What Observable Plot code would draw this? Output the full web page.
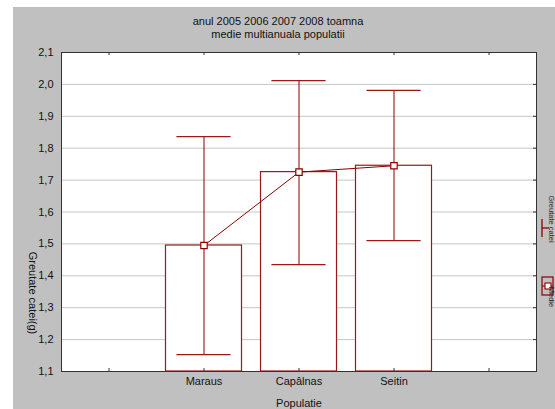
<!DOCTYPE html>
<html>
<head>
<meta charset="utf-8">
<script src="https://cdn.jsdelivr.net/npm/d3@7"></script>
<script src="https://cdn.jsdelivr.net/npm/@observablehq/plot@0.6"></script>
<style>
  html, body { margin: 0; padding: 0; background: #fff; }
  #wrap { position: relative; width: 555px; height: 409px; overflow: hidden; }
  #bg { position: absolute; left: 13px; top: 7px; right: 0; bottom: 0; background: #c0c0c0; }
  #chart { position: absolute; left: 0; top: 0; }
</style>
</head>
<body>
<div id="wrap"><div id="bg"></div><div id="chart"></div></div>
<script>
const categories = ["Maraus", "Capâlnas", "Seitin"];
const means = [1.495, 1.725, 1.745];
const lower = [1.153, 1.435, 1.510];
const upper = [1.836, 2.012, 1.981];
const yTicks = [1.1, 1.2, 1.3, 1.4, 1.5, 1.6, 1.7, 1.8, 1.9, 2.0, 2.1];
const xTickPos = [1, 2, 3, 4, 5];
const titleLines = ["anul 2005 2006 2007 2008 toamna", "medie multianuala populatii"];
const yLabel = "Greutate catei(g)";
const xLabel = "Populatie";
const legendLabels = ["Greutate catei", "Medie"];

const red = "#8b0000";
const data = categories.map((c, i) => ({c, pos: i + 2, mean: means[i], lo: lower[i], hi: upper[i]}));
const catAt = new Map(data.map(d => [d.pos, d.c]));

const W = 555, H = 409, mL = 61, mR = 19, mT = 52, mB = 38;
const innerW = W - mL - mR, innerH = H - mT - mB;

const chart = Plot.plot({
  width: W, height: H,
  marginLeft: mL, marginRight: mR, marginTop: mT, marginBottom: mB,
  style: {background: "transparent", fontFamily: "'Liberation Sans', Arial, sans-serif", fontSize: "11px", color: "#111", overflow: "hidden"},
  x: {type: "linear", domain: [0.5, 5.5], axis: null},
  y: {domain: [1.1, 2.1], axis: null},
  marks: [
    Plot.frame({fill: "white", stroke: "none"}),
    Plot.gridY(yTicks, {stroke: "#c6c6c6", strokeOpacity: 1}),
    Plot.rectY(data, {x1: d => d.pos - 0.4, x2: d => d.pos + 0.4, y1: () => 1.1, y2: "mean", fill: "white", stroke: "#9a1a1a", strokeWidth: 1.2}),
    Plot.ruleX(data, {x: "pos", y1: "lo", y2: "hi", stroke: red, strokeWidth: 1}),
    Plot.ruleY(data, {y: "lo", x1: d => d.pos - 0.285, x2: d => d.pos + 0.285, stroke: "#9a1a1a", strokeWidth: 1.3}),
    Plot.ruleY(data, {y: "hi", x1: d => d.pos - 0.285, x2: d => d.pos + 0.285, stroke: "#9a1a1a", strokeWidth: 1.3}),
    Plot.line(data, {x: "pos", y: "mean", stroke: red, strokeWidth: 1}),
    Plot.dot(data, {x: "pos", y: "mean", symbol: "square", r: 3.6, fill: "white", stroke: red, strokeWidth: 1.2}),
    Plot.tickX(xTickPos, {x: d => d, insetBottom: innerH - 3, stroke: "#333"}),
    Plot.tickX(xTickPos, {x: d => d, insetTop: innerH - 3, stroke: "#333"}),
    Plot.tickY(yTicks, {y: d => d, insetLeft: innerW - 3, stroke: "#333"}),
    Plot.frame({stroke: "#333", strokeWidth: 1}),
    Plot.axisY(yTicks, {tickSize: 0, tickPadding: 8, tickFormat: d => d.toFixed(1).replace(".", ","), fontSize: 11, fill: "#111", label: null}),
    Plot.axisX(data.map(d => d.pos), {tickSize: 0, tickPadding: 6, tickFormat: d => catAt.get(d), fontSize: 11, fill: "#111", label: null}),
    Plot.text([xLabel], {frameAnchor: "bottom", dy: 32, lineAnchor: "middle", fontSize: 11, fill: "#111"}),
    Plot.text([yLabel], {frameAnchor: "left", dx: -29, dy: 81, rotate: 90, textAnchor: "middle", lineAnchor: "middle", fontSize: 11, fill: "#111"}),
    Plot.text([titleLines[0]], {frameAnchor: "top", dx: -21, dy: -31, lineAnchor: "middle", fontSize: 11, fill: "#111"}),
    Plot.text([titleLines[1]], {frameAnchor: "top", dx: -21, dy: -18, lineAnchor: "middle", fontSize: 11, fill: "#111"})
  ]
});
document.getElementById("chart").appendChild(chart);

// Legend at the right edge
const svg = d3.select(chart);
const lg = svg.append("g").attr("fill", "none");
lg.append("line").attr("x1", 542).attr("x2", 542).attr("y1", 219).attr("y2", 237).attr("stroke", red).attr("stroke-width", 1.3);
lg.append("line").attr("x1", 542).attr("x2", 549).attr("y1", 228).attr("y2", 228).attr("stroke", red).attr("stroke-width", 1.3);
lg.append("rect").attr("x", 542).attr("y", 277).attr("width", 11).attr("height", 18).attr("stroke", red).attr("stroke-width", 1.2);
lg.append("line").attr("x1", 542).attr("x2", 553).attr("y1", 286).attr("y2", 286).attr("stroke", red);
lg.append("rect").attr("x", 545).attr("y", 283).attr("width", 6).attr("height", 6).attr("fill", "white").attr("stroke", red).attr("stroke-width", 1.1);
legendLabels.forEach((t, i) => {
  svg.append("text")
    .attr("transform", `translate(548.5,${i === 0 ? 219 : 297}) rotate(90)`)
    .attr("font-family", "'Liberation Sans', Arial, sans-serif")
    .attr("font-size", 7.5).attr("fill", "#222")
    .text(t);
});
</script>
</body>
</html>
